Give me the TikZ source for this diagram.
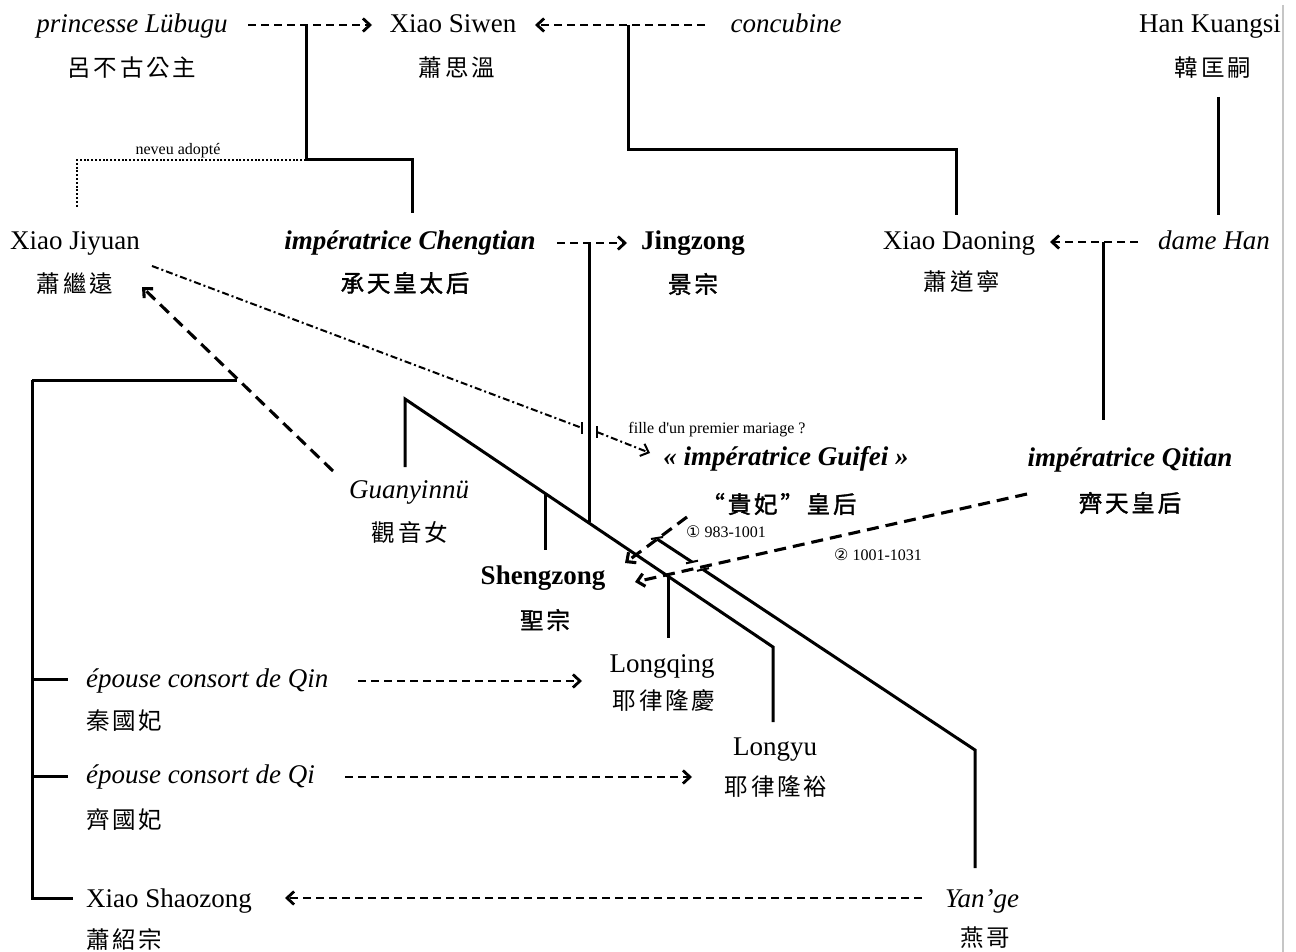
\documentclass[tikz,border=0pt]{standalone}
\usepackage{fontspec}
\setmainfont{Liberation Serif}
\newfontfamily\cjkfont[LetterSpace=12]{Noto Sans CJK TC}
\newfontfamily\cjkbold[LetterSpace=12,FakeBold=1.6]{Noto Sans CJK TC}
\newfontfamily\circfont{DejaVu Sans}
\usetikzlibrary{arrows.meta}
\tikzset{
  lbl/.style={inner sep=0pt, anchor=base, font=\fontsize{27}{30}\selectfont},
  itl/.style={lbl, font=\fontsize{27}{30}\selectfont\itshape},
  bfl/.style={lbl, font=\fontsize{27}{30}\selectfont\bfseries},
  bfi/.style={lbl, font=\fontsize{27}{30}\selectfont\bfseries\itshape},
  sml/.style={inner sep=0pt, anchor=base, font=\fontsize{16}{18}\selectfont},
  cjk/.style={inner sep=0pt, font=\cjkfont\fontsize{23.5}{26}\selectfont},
  cjkb/.style={inner sep=0pt, font=\cjkbold\fontsize{23.5}{26}\selectfont},
  sol/.style={line width=3pt, line join=miter},
  dsh/.style={line width=2.8pt, dash pattern=on 8pt off 5pt},
  dshb/.style={line width=3.1pt, dash pattern=on 12pt off 7pt},
  dotl/.style={line width=2pt, dash pattern=on 2pt off 1.8pt},
  ddot/.style={line width=2pt, dash pattern=on 7pt off 3pt on 2pt off 3pt},
  arr/.style={-{Straight Barb[length=7pt,width=13pt]}},
  tick/.style={line width=2pt}
}
\begin{document}
\begin{tikzpicture}[x=1pt,y=-1pt]
\useasboundingbox (0,0) rectangle (1296,952);
\draw[gray!45, line width=1.2pt] (1283,5) -- (1283,952);
% ---- row 1
\node[itl] (lub) at (132,33) {princesse Lübugu};
\node[cjk] (lubc) at (132,68) {呂不古公主};
\node[lbl] (siwen) at (453,33) {Xiao Siwen};
\node[cjk] (siwenc) at (457,68) {蕭思溫};
\node[itl] (conc) at (786,33) {concubine};
\node[lbl] (hank) at (1210,33) {Han Kuangsi};
\node[cjk] (hankc) at (1213,68) {韓匡嗣};
% ---- row 2
\node[lbl] (jiyuan) at (75,250) {Xiao Jiyuan};
\node[cjk] (jiyuanc) at (75,284) {蕭繼遠};
\node[bfi] (cheng) at (410,250) {impératrice Chengtian};
\node[cjkb] (chengc) at (405,283) {承天皇太后};
\node[bfl] (jing) at (693,250) {Jingzong};
\node[cjkb] (jingc) at (693,284) {景宗};
\node[lbl] (daon) at (959,250) {Xiao Daoning};
\node[cjk] (daonc) at (962,282) {蕭道寧};
\node[itl] (dame) at (1214,250) {dame Han};
\node[sml] (neveu) at (178,155) {neveu adopté};
% ---- row 3
\node[itl] (guan) at (409,498) {Guanyinnü};
\node[cjk] (guanc) at (410,532) {觀音女};
\node[bfl] (sheng) at (543,584) {Shengzong};
\node[cjkb] (shengc) at (545,620) {聖宗};
\node[bfi] (guifei) at (786,465) {« impératrice Guifei »};
\node[cjkb] (guifeic) at (779,504) {“貴妃”皇后};
\node[bfi] (qitian) at (1130,466) {impératrice Qitian};
\node[cjkb] (qitianc) at (1130,503) {齊天皇后};
\node[sml] (fille) at (717,433) {fille d\textquotesingle un premier mariage ?};
\node[sml] (d1) at (726,537) {{\circfont ①} 983-1001};
\node[sml] (d2) at (878,560) {{\circfont ②} 1001-1031};
% ---- lower
\node[lbl] (longq) at (662,672) {Longqing};
\node[cjk] (longqc) at (664,700) {耶律隆慶};
\node[lbl] (longy) at (775,755) {Longyu};
\node[cjk] (longyc) at (776,787) {耶律隆裕};
\node[itl] (yange) at (982,907) {Yan’ge};
\node[cjk] (yangec) at (985,938) {燕哥};
\node[itl, anchor=base west] (qin) at (86,687) {épouse consort de Qin};
\node[cjk, anchor=west] (qinc) at (86,721) {秦國妃};
\node[itl, anchor=base west] (qi) at (86,783) {épouse consort de Qi};
\node[cjk, anchor=west] (qic) at (86,820) {齊國妃};
\node[lbl, anchor=base west] (shao) at (86,907) {Xiao Shaozong};
\node[cjk, anchor=west] (shaoc) at (86,940) {蕭紹宗};
% ---- coordinates
\coordinate (m1) at (306,25);
\coordinate (m2) at (628,25);
\coordinate (m3) at (589,243);
\coordinate (m4) at (1103,242);
\coordinate (g0) at (405,399);
\coordinate (g1) at (773,647);
\coordinate (h0) at (657,539);
\coordinate (h1) at (975,750);
% ---- row 1 connectors
\draw[dsh,arr] (248,25) -- (372,25);
\draw[sol] (m1) -- (306,160) -- (412,160) -- (412,213);
\draw[dotl] (306,160) -- (77,160) -- (77,207);
\draw[dsh,arr] (705,25) -- (535,25);
\draw[sol] (m2) -- (628,150) -- (956,150) -- (956,215);
\draw[sol] (1218,97) -- (1218,215);
% ---- row 2 connectors
\draw[dsh,arr] (1138,242) -- (1050,242);
\draw[sol] (m4) -- (1103,420);
\draw[dsh,arr] (557,243) -- (627,243);
\draw[sol] (m3) -- (589,522);
% ---- Guanyinnu -> Jiyuan
\draw[dshb,arr] (333,471) -- (142,287);
\draw[sol] (32,380) -- (237,380);
\draw[sol] (32,380) -- (32,898) -- (73,898);
\draw[sol] (32,679) -- (68,679);
\draw[sol] (32,776) -- (68,776);
\draw[dsh,arr] (358,681) -- (582,681);
\draw[dsh,arr] (345,777) -- (692,777);
\draw[dsh,arr] (922,898) -- (285,898);
% ---- diagonals
\draw[sol] (405,467) -- (g0) -- (g1) -- (773,722);
\draw[sol] (545,493) -- (545,550);
\draw[sol] (668,576) -- (668,638);
\draw[sol] (h0) -- (692,562);
\draw[sol] (703,569.5) -- (h1) -- (975,868);
\draw[tick] (686,563.3) -- (698,560.7);
\draw[tick] (697,570.8) -- (709,568.2);
\draw[tick] (651,539) -- (663,537);
% ---- dash-dot Jiyuan -> Guifei
\draw[ddot] (152,266) -- (582,428);
\draw[tick] (582,422) -- (582,434);
\draw[ddot,arr] (597,432) -- (650,453);
\draw[tick] (597,426) -- (597,438);
% ---- marriages of Shengzong
\draw[dshb,arr] (687,517) -- (625,563);
\draw[dshb,arr] (1027,494) -- (635,582);
\end{tikzpicture}
\end{document}
